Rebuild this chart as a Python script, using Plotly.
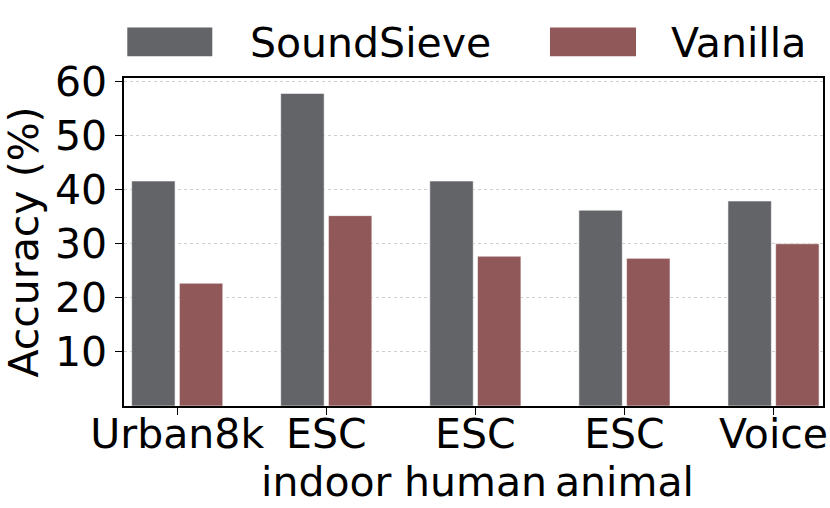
import plotly.graph_objects as go

categories = ["Urban8k", "ESC indoor", "ESC human", "ESC animal", "Voice"]
tick_line1 = ["Urban8k", "ESC", "ESC", "ESC", "Voice"]
tick_line2 = ["", "indoor", "human", "animal", ""]
soundsieve = [41.6, 57.8, 41.6, 36.2, 37.9]
vanilla = [22.7, 35.2, 27.7, 27.3, 30.0]
series_names = ["SoundSieve", "Vanilla"]
series_colors = ["#636468", "#915859"]
y_ticks = [10, 20, 30, 40, 50, 60]

FONT = "DejaVu Sans"
FS = 41

fig = go.Figure()
for name, vals, col in zip(series_names, [soundsieve, vanilla], series_colors):
    fig.add_trace(go.Bar(
        x=categories, y=vals, name=name,
        marker=dict(color=col, line=dict(color="rgba(255,255,255,0.55)", width=1)),
        showlegend=False,
    ))

# custom legend (wide patches like the reference)
legend_spec = [
    (0.0047, 0.1263, 0.177, series_names[0], series_colors[0]),
    (0.6094, 0.7325, 0.780, series_names[1], series_colors[1]),
]
for x0, x1, xt, name, col in legend_spec:
    fig.add_shape(type="rect", xref="paper", yref="paper",
                  x0=x0, x1=x1, y0=1.066, y1=1.154,
                  fillcolor=col, line=dict(width=0))
    fig.add_annotation(xref="paper", yref="paper", x=xt, y=1.108,
                       text=name, showarrow=False, xanchor="left", yanchor="middle",
                       font=dict(family=FONT, size=FS, color="black"))

# second line of tick labels
for cat, t2 in zip(categories, tick_line2):
    if t2:
        fig.add_annotation(xref="x", yref="paper", x=cat, y=-0.157,
                           text=t2, showarrow=False, xanchor="center", yanchor="top",
                           borderpad=0,
                           font=dict(family=FONT, size=FS, color="black"))

fig.update_layout(
    width=830, height=508,
    margin=dict(l=124, r=7, t=78, b=102),
    paper_bgcolor="white", plot_bgcolor="white",
    barmode="group", bargap=0.36, bargroupgap=0.09,
    font=dict(family=FONT, size=FS, color="black"),
)
fig.update_xaxes(
    type="category", categoryorder="array", categoryarray=categories,
    tickvals=categories, ticktext=tick_line1,
    range=[-0.357, 4.332], automargin=False,
    showline=True, linecolor="black", linewidth=1.5, mirror=True,
    ticks="outside", ticklen=7, tickwidth=1.2, tickcolor="black",
    ticklabelstandoff=-16,
    tickfont=dict(family=FONT, size=FS, color="black"),
    showgrid=False,
)
fig.update_yaxes(
    range=[0, 60.65], tickvals=y_ticks, automargin=False,
    showline=True, linecolor="black", linewidth=1.5, mirror=True,
    ticks="outside", ticklen=7, tickwidth=1.2, tickcolor="black",
    tickfont=dict(family=FONT, size=FS, color="black"),
    showgrid=True, gridcolor="#cfcfcf", griddash="dot", gridwidth=1,
    zeroline=False,
    title=dict(text="Accuracy (%)", font=dict(family=FONT, size=FS, color="black"), standoff=10),
)

fig.write_html("out.html", config={"displayModeBar": False},
               post_script="document.body.style.margin='0px';")
